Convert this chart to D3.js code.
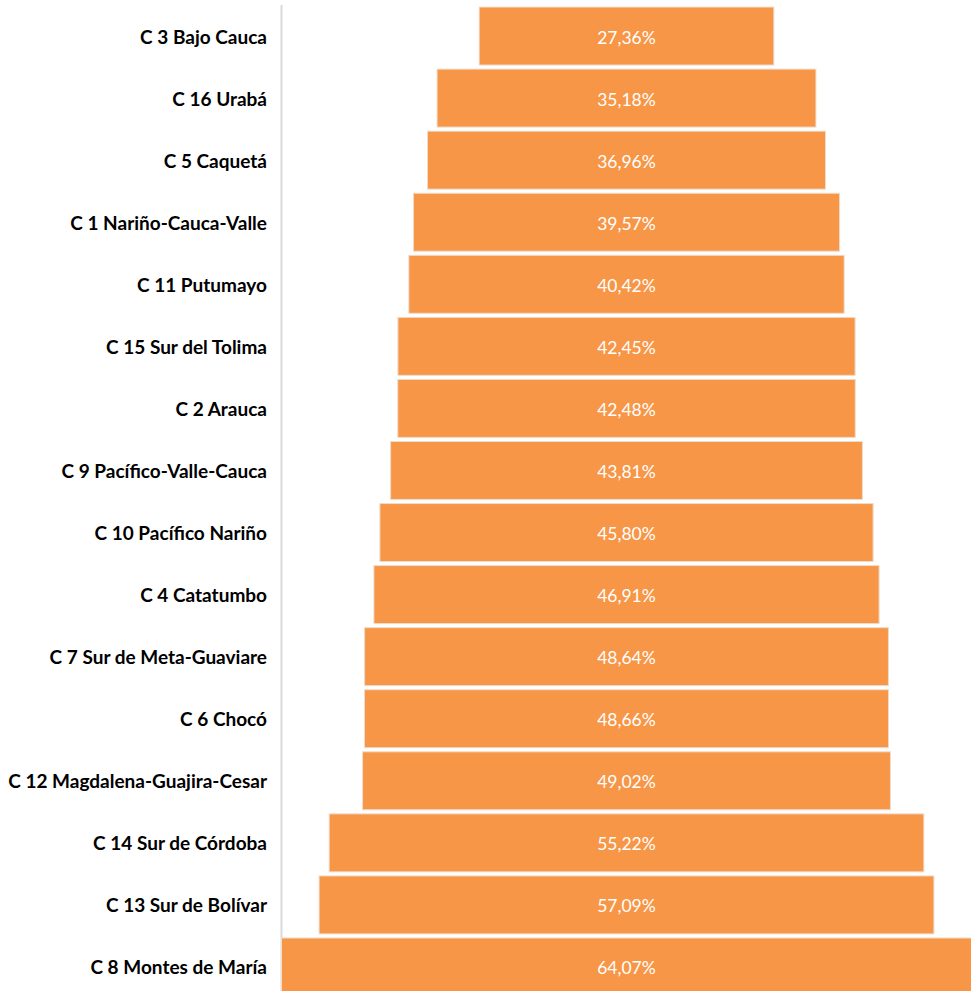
<!DOCTYPE html>
<html><head><meta charset="utf-8">
<script src="https://cdn.jsdelivr.net/npm/d3@7/dist/d3.min.js"></script>
<style>body{margin:0;background:#fff;}svg{display:block;}</style>
</head><body>
<div id="chart"></div>
<script>
const categories = ["C 3 Bajo Cauca","C 16 Urabá","C 5 Caquetá","C 1 Nariño-Cauca-Valle","C 11 Putumayo","C 15 Sur del Tolima","C 2 Arauca","C 9 Pacífico-Valle-Cauca","C 10 Pacífico Nariño","C 4 Catatumbo","C 7 Sur de Meta-Guaviare","C 6 Chocó","C 12 Magdalena-Guajira-Cesar","C 14 Sur de Córdoba","C 13 Sur de Bolívar","C 8 Montes de María"];
const values = [27.36,35.18,36.96,39.57,40.42,42.45,42.48,43.81,45.80,46.91,48.64,48.66,49.02,55.22,57.09,64.07];
const valueLabels = ["27,36%","35,18%","36,96%","39,57%","40,42%","42,45%","42,48%","43,81%","45,80%","46,91%","48,64%","48,66%","49,02%","55,22%","57,09%","64,07%"];

const W = 971, H = 991;
const svg = d3.select("#chart").append("svg").attr("width", W).attr("height", H);
const data = categories.map((c,i)=>({c, v:values[i], l:valueLabels[i]}));

const cx = 626.5;
const axisX = 281.5;
const y = d3.scaleBand().domain(categories).range([5, 998]).paddingInner(0.066).paddingOuter(0.033);
const w = d3.scaleLinear().domain([0, 64.07]).range([0, 2*(cx-axisX)]);

// axis line
svg.append("line").attr("x1", axisX).attr("x2", axisX).attr("y1", 5).attr("y2", H)
  .attr("stroke", "#d9d9d9").attr("stroke-width", 2);

svg.selectAll("rect.bar").data(data).join("rect").attr("class","bar")
  .attr("x", d=>cx - w(d.v)/2).attr("width", d=>w(d.v))
  .attr("y", d=>y(d.c)).attr("height", y.bandwidth())
  .attr("fill", "#F79646").attr("stroke", "#eedccd").attr("stroke-width", 1);

svg.selectAll("text.val").data(data).join("text").attr("class","val")
  .attr("x", cx).attr("y", d=>y(d.c)+y.bandwidth()/2+1)
  .attr("text-anchor","middle").attr("dominant-baseline","central")
  .attr("fill","#fff").attr("font-family","Lato, 'Open Sans', sans-serif")
  .attr("font-size", 17.5).text(d=>d.l);

svg.selectAll("text.cat").data(data).join("text").attr("class","cat")
  .attr("x", 267).attr("y", d=>y(d.c)+y.bandwidth()/2)
  .attr("text-anchor","end").attr("dominant-baseline","central")
  .attr("fill","#000").attr("font-family","Lato, 'Open Sans', sans-serif")
  .attr("font-weight","bold").attr("font-size", 19).text(d=>d.c);
</script>
</body></html>
